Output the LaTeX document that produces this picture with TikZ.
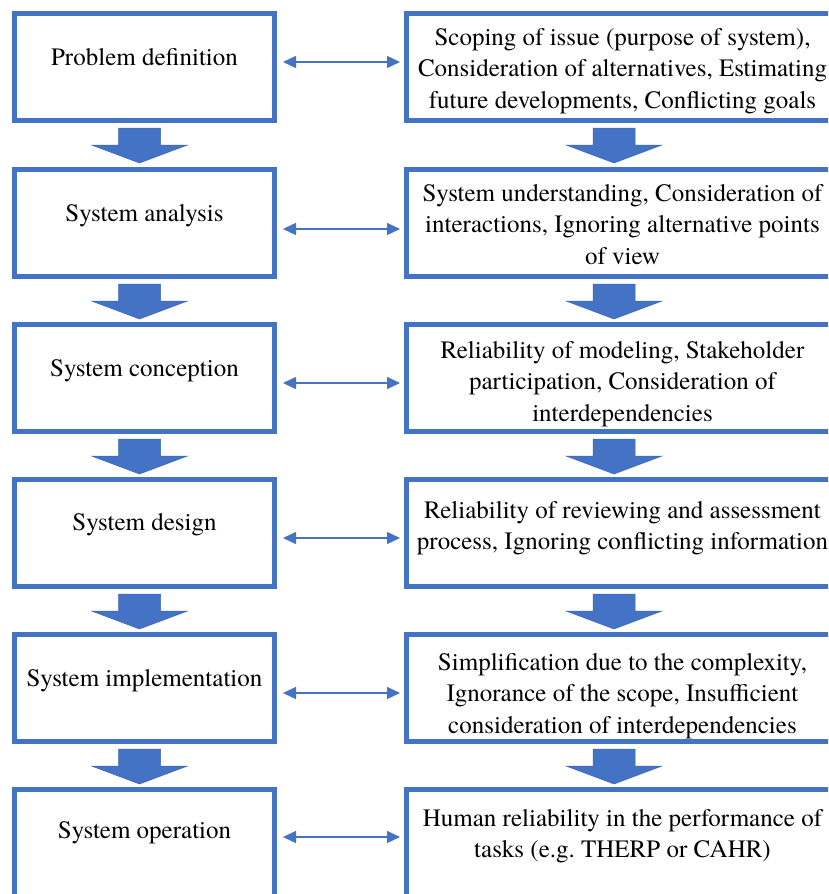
\documentclass[tikz,border=0pt]{standalone}
\usepackage{fontspec}
\IfFontExistsTF{TeX Gyre Termes}{\setmainfont{TeX Gyre Termes}}{\setmainfont{Liberation Serif}}
\usetikzlibrary{arrows.meta}
\definecolor{boxblue}{HTML}{4472C4}
\definecolor{blkedge}{HTML}{3A66B8}
\newcommand{\downblk}[2]{%
  \filldraw[blk] (#1-21,#2) -- (#1+21,#2) -- (#1+21,#2+17) -- (#1+48,#2+17)
    -- (#1,#2+35) -- (#1-48,#2+17) -- (#1-21,#2+17) -- cycle;}
\begin{document}
\begin{tikzpicture}[x=1pt,y=-1pt,
  box/.style={draw=boxblue, line width=5pt, minimum height=107pt, inner sep=0pt},
  lbox/.style={box, minimum width=260pt},
  rbox/.style={box, minimum width=433pt},
  ltext/.style={anchor=base, font=\rmfamily\fontsize{25}{31.5}\selectfont, inner sep=0pt},
  rtext/.style={anchor=north, align=center, font=\rmfamily\fontsize{25}{31.5}\selectfont, inner sep=0pt},
  dbl/.style={{Triangle[length=13pt,width=12pt]}-{Triangle[length=13pt,width=12pt]}, draw=boxblue, line width=1.4pt},
  blk/.style={fill=boxblue, draw=blkedge, line width=0.5pt}]
\useasboundingbox (0,0) rectangle (828,894);
\clip (0,0) rectangle (828,894);

% boxes
\node[lbox] (L1) at (144.5,67) {};
\node[lbox] (L2) at (144.5,223) {};
\node[lbox] (L3) at (144.5,378) {};
\node[lbox] (L4) at (144.5,533) {};
\node[lbox] (L5) at (144.5,688) {};
\node[lbox] (L6) at (144.5,843) {};
\node[rbox] (R1) at (622.5,67) {};
\node[rbox] (R2) at (622.5,223) {};
\node[rbox] (R3) at (622.5,378) {};
\node[rbox] (R4) at (622.5,533) {};
\node[rbox] (R5) at (622.5,688) {};
\node[rbox] (R6) at (622.5,843) {};

% left texts
\node[ltext] (T1) at (144.5,65) {Problem definition};
\node[ltext] (T2) at (144.5,221) {System analysis};
\node[ltext] (T3) at (144.5,376) {System conception};
\node[ltext] (T4) at (144.5,530) {System design};
\node[ltext] (T5) at (144.5,686) {System implementation};
\node[ltext] (T6) at (144.5,838) {System operation};

% right texts
\node[rtext] (S1) at (622.5,28) {Scoping of issue (purpose of system),\\Consideration of alternatives, Estimating\\future developments, Conflicting goals};
\node[rtext] (S2) at (622.5,184) {System understanding, Consideration of\\interactions, Ignoring alternative points\\of view};
\node[rtext] (S3) at (622.5,341) {Reliability of modeling, Stakeholder\\participation, Consideration of\\interdependencies};
\node[rtext] (S4) at (622.5,501) {Reliability of reviewing and assessment\\process, Ignoring conflicting information};
\node[rtext] (S5) at (622.5,653) {Simplification due to the complexity,\\Ignorance of the scope, Insufficient\\consideration of interdependencies};
\node[rtext] (S6) at (622.5,809) {Human reliability in the performance of\\tasks (e.g.\ THERP or CAHR)};

% double arrows
\draw[dbl] ([xshift=6pt,yshift=5pt]L1.east) -- ([xshift=-3.5pt,yshift=5pt]R1.west);
\draw[dbl] ([xshift=6pt,yshift=-6pt]L2.east) -- ([xshift=-3.5pt,yshift=-6pt]R2.west);
\draw[dbl] ([xshift=6pt,yshift=-5pt]L3.east) -- ([xshift=-3.5pt,yshift=-5pt]R3.west);
\draw[dbl] ([xshift=6pt,yshift=-5pt]L4.east) -- ([xshift=-3.5pt,yshift=-5pt]R4.west);
\draw[dbl] ([xshift=6pt,yshift=-5pt]L5.east) -- ([xshift=-3.5pt,yshift=-5pt]R5.west);
\draw[dbl] ([xshift=6pt,yshift=6pt]L6.east) -- ([xshift=-3.5pt,yshift=6pt]R6.west);

% block arrows
\downblk{139.5}{128}
\downblk{139.5}{284}
\downblk{139.5}{439}
\downblk{139.5}{594}
\downblk{139.5}{749}
\downblk{614}{128}
\downblk{614}{284}
\downblk{614}{439}
\downblk{614}{594}
\downblk{614}{749}
\end{tikzpicture}
\end{document}
